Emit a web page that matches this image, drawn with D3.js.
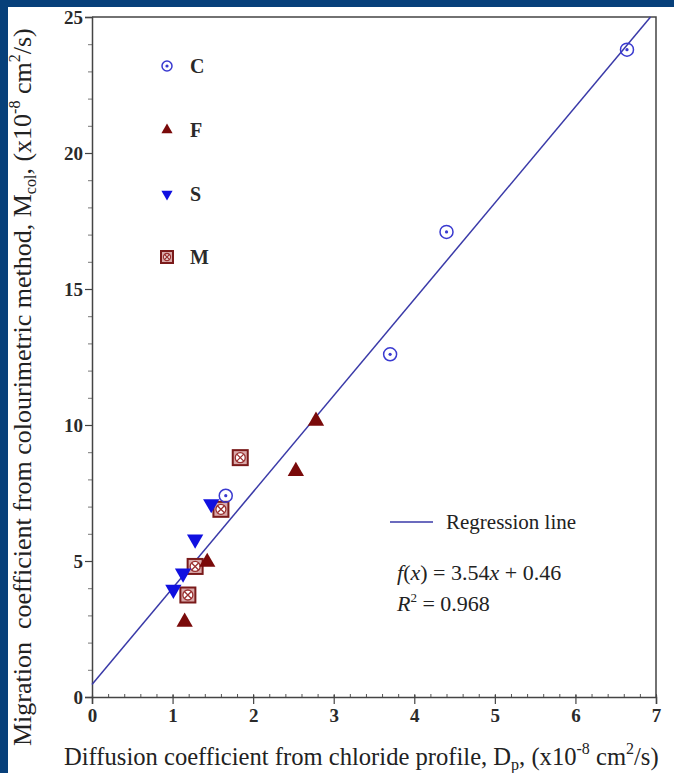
<!DOCTYPE html>
<html>
<head>
<meta charset="utf-8">
<script src="https://cdn.jsdelivr.net/npm/d3@7"></script>
<style>
  html, body { margin: 0; padding: 0; background: #07407a; }
  svg { display: block; }
  text { white-space: pre; }
</style>
</head>
<body>
<div id="chart"></div>
<script>
// data
const seriesC = [[6.64, 23.8], [4.40, 17.1], [3.70, 12.6], [1.66, 7.4]];
const seriesF = [[2.78, 10.15], [2.53, 8.3], [1.43, 4.96], [1.15, 2.76]];
const seriesS = [[1.48, 7.1], [1.28, 5.8], [1.13, 4.55], [1.01, 3.95]];
const seriesM = [[1.84, 8.8], [1.60, 6.9], [1.28, 4.8], [1.19, 3.75]];
const slope = 3.54, intercept = 0.46;
const xTicks = [0, 1, 2, 3, 4, 5, 6, 7];
const yTicks = [0, 5, 10, 15, 20, 25];

const W = 674, H = 773;
const margin = {top: 17, right: 18, bottom: 76, left: 92};
const iw = W - margin.left - margin.right, ih = H - margin.top - margin.bottom;
const serif = "'Liberation Serif', 'Times New Roman', serif";

const svg = d3.select("#chart").append("svg").attr("width", W).attr("height", H);
svg.append("rect").attr("x", 8).attr("y", 7).attr("width", W - 8).attr("height", H - 7).attr("fill", "#fff");

const g = svg.append("g").attr("transform", "translate(" + margin.left + "," + margin.top + ")");

const x = d3.scaleLinear().domain([0, 7]).range([0, iw]);
const y = d3.scaleLinear().domain([0, 25]).range([ih, 0]);

// minor ticks
g.append("g").attr("transform", "translate(0," + ih + ")")
    .call(d3.axisBottom(x).tickValues(d3.range(0, 7.01, 0.2)).tickSize(-3).tickFormat(""))
    .call(a => a.select(".domain").remove())
    .selectAll("line").attr("stroke", "#555");
g.append("g")
    .call(d3.axisLeft(y).tickValues(d3.range(0, 25.01, 1)).tickSize(4).tickFormat(""))
    .call(a => a.select(".domain").remove())
    .selectAll("line").attr("stroke", "#777");

// major ticks
const xa = g.append("g").attr("transform", "translate(0," + ih + ")")
    .call(d3.axisBottom(x).tickValues(xTicks).tickSize(7).tickPadding(5).tickFormat(d3.format("d")));
const ya = g.append("g")
    .call(d3.axisLeft(y).tickValues(yTicks).tickSize(7).tickPadding(2).tickFormat(d3.format("d")));
[xa, ya].forEach(a => {
    a.select(".domain").attr("stroke", "#444").attr("stroke-width", 1.5);
    a.selectAll(".tick line").attr("stroke", "#444").attr("stroke-width", 1.2);
    a.selectAll("text").attr("font-family", serif).attr("font-size", 19)
        .attr("font-weight", "bold").attr("fill", "#2a2a2a");
});
xa.selectAll(".tick line").attr("y1", -2);

// frame top/right
g.append("path").attr("d", "M0,0H" + iw + "V" + ih)
    .attr("fill", "none").attr("stroke", "#444").attr("stroke-width", 1.5);

// regression line
const xEnd = (25 - intercept) / slope;
g.append("line")
    .attr("x1", x(0)).attr("y1", y(intercept))
    .attr("x2", x(xEnd)).attr("y2", y(slope * xEnd + intercept))
    .attr("stroke", "#3a3aa8").attr("stroke-width", 1.5);

// marker drawers
const blue = "#1010e0", red = "#7a0a0a";
function circleMark(sel, r) {
    sel.append("circle").attr("r", r).attr("fill", "none").attr("stroke", "#3a3ad0").attr("stroke-width", 1.5);
    sel.append("circle").attr("r", 1.6).attr("fill", "#3a3ad0");
}
function triUp(sel, s) {
    sel.append("path").attr("d", d3.symbol(d3.symbolTriangle, s * s * 0.45)()).attr("fill", red);
}
function triDown(sel, s) {
    sel.append("path").attr("d", d3.symbol(d3.symbolTriangle, s * s * 0.45)())
        .attr("transform", "rotate(180)").attr("fill", blue);
}
function squareMark(sel, s) {
    const h = s / 2;
    sel.append("rect").attr("x", -h).attr("y", -h).attr("width", s).attr("height", s)
        .attr("fill", "#d9a9a9").attr("stroke", "#7a1a1a").attr("stroke-width", 2);
    sel.append("circle").attr("r", h - 2.5).attr("fill", "#fff").attr("stroke", "#9a3030").attr("stroke-width", 1.3);
    const k = (h - 2.5) * 0.7;
    sel.append("path").attr("d", "M" + (-k) + "," + (-k) + "L" + k + "," + k + "M" + k + "," + (-k) + "L" + (-k) + "," + k)
        .attr("stroke", "#9a3030").attr("stroke-width", 1.3);
}

function plot(data, draw, size) {
    g.selectAll(null).data(data).enter().append("g")
        .attr("transform", d => "translate(" + x(d[0]) + "," + y(d[1]) + ")")
        .each(function() { draw(d3.select(this), size); });
}
plot(seriesM, squareMark, 15);
plot(seriesF, triUp, 16);
plot(seriesS, triDown, 16);
plot(seriesC, circleMark, 6.5);

// series legend
const legend = [
    {name: "C", draw: circleMark, size: 5, y: 66},
    {name: "F", draw: triUp, size: 11, y: 130},
    {name: "S", draw: triDown, size: 11, y: 194},
    {name: "M", draw: squareMark, size: 12, y: 257}
];
legend.forEach(l => {
    const lg = svg.append("g").attr("transform", "translate(167," + l.y + ")");
    l.draw(lg, l.size);
    svg.append("text").attr("x", 190).attr("y", l.y + 7).text(l.name)
        .attr("font-family", serif).attr("font-size", 20).attr("font-weight", "bold").attr("fill", "#2a2a2a");
});

// regression legend
svg.append("line").attr("x1", 390).attr("x2", 433).attr("y1", 522).attr("y2", 522)
    .attr("stroke", "#3a3aa8").attr("stroke-width", 1.5);
svg.append("text").attr("x", 446).attr("y", 529).text("Regression line")
    .attr("font-family", serif).attr("font-size", 21).attr("fill", "#222");
const fx = svg.append("text").attr("x", 397).attr("y", 580)
    .attr("font-family", serif).attr("font-size", 22).attr("fill", "#222");
fx.append("tspan").attr("font-style", "italic").text("f");
fx.append("tspan").text("(");
fx.append("tspan").attr("font-style", "italic").text("x");
fx.append("tspan").text(") = " + slope.toFixed(2));
fx.append("tspan").attr("font-style", "italic").text("x");
fx.append("tspan").text(" + " + intercept.toFixed(2));
const r2 = svg.append("text").attr("x", 397).attr("y", 611)
    .attr("font-family", serif).attr("font-size", 22).attr("fill", "#222");
r2.append("tspan").attr("font-style", "italic").text("R");
r2.append("tspan").attr("font-size", 13).attr("dy", -9).text("2");
r2.append("tspan").attr("dy", 9).text(" = 0.968");

// axis titles
const xt = svg.append("text").attr("x", 64).attr("y", 765)
    .attr("font-family", serif).attr("font-size", 24.6).attr("fill", "#222");
xt.append("tspan").text("Diffusion coefficient from chloride profile, D");
xt.append("tspan").attr("font-size", 16).attr("dy", 5).text("p");
xt.append("tspan").attr("dy", -5).text(", (x10");
xt.append("tspan").attr("font-size", 16).attr("dy", -11).text("-8");
xt.append("tspan").attr("dy", 11).text(" cm");
xt.append("tspan").attr("font-size", 16).attr("dy", -11).text("2");
xt.append("tspan").attr("dy", 11).text("/s)");

const yt = svg.append("text").attr("transform", "translate(31,746) rotate(-90)")
    .attr("font-family", serif).attr("font-size", 26).attr("fill", "#222");
yt.append("tspan").text("Migration  coefficient from colourimetric method, M");
yt.append("tspan").attr("font-size", 16).attr("dy", 5).text("col");
yt.append("tspan").attr("dy", -5).text(", (x10");
yt.append("tspan").attr("font-size", 16).attr("dy", -11).text("-8");
yt.append("tspan").attr("dy", 11).text(" cm");
yt.append("tspan").attr("font-size", 16).attr("dy", -11).text("2");
yt.append("tspan").attr("dy", 11).text("/s)");
</script>
</body>
</html>
